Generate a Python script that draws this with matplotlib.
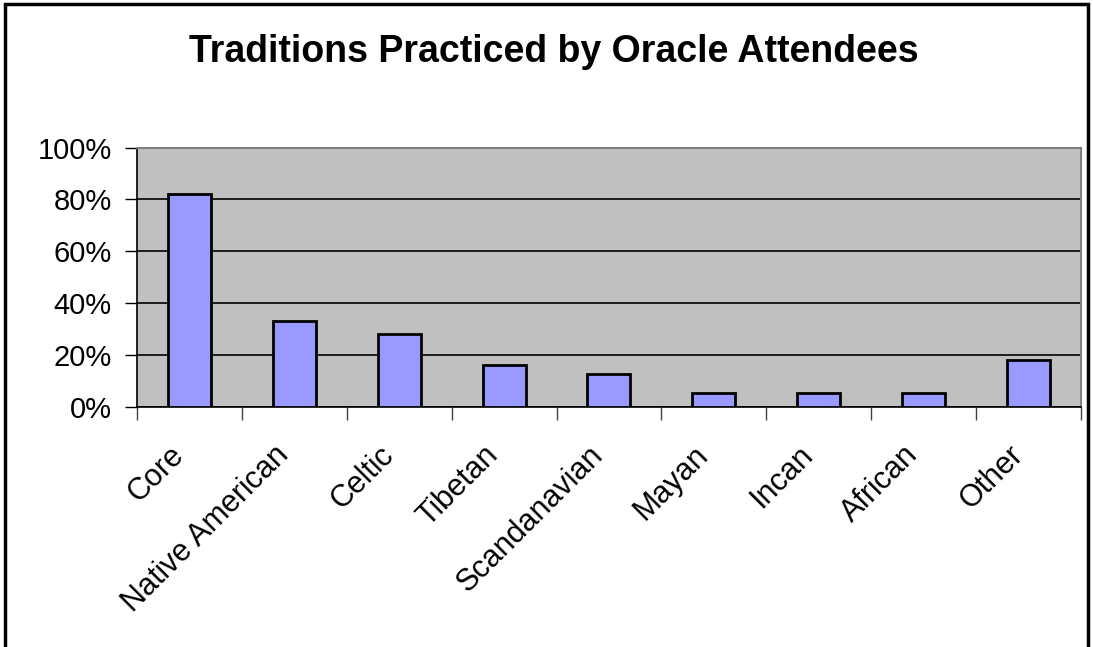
import matplotlib.pyplot as plt
from matplotlib.patches import Rectangle
from matplotlib.ticker import PercentFormatter
from matplotlib.transforms import ScaledTranslation

plt.rcParams['font.family'] = ['Liberation Sans', 'DejaVu Sans']

traditions = ['Core', 'Native American', 'Celtic', 'Tibetan', 'Scandanavian',
              'Mayan', 'Incan', 'African', 'Other']
percent = [82, 33.3, 28, 16.3, 12.7, 5.5, 5.5, 5.5, 18]

fig = plt.figure(figsize=(10.93, 6.47), dpi=100)
ax = fig.add_axes([0.1253, 0.371, 0.8637, 0.401])

# chart frame (runs past the bottom edge)
fig.patches.append(Rectangle((5 / 1093, -0.1), 1083 / 1093, 1.1 - 4 / 647,
                             transform=fig.transFigure, fill=False,
                             edgecolor='black', linewidth=2.5))

ax.set_facecolor('#C0C0C0')
x = range(len(traditions))
ax.bar(x, percent, width=0.41, color='#9999FF', edgecolor='black', linewidth=2, zorder=3)

ax.set_ylim(0, 100)
ax.set_xlim(-0.5, len(traditions) - 0.5)
ax.set_yticks(range(0, 101, 20))
ax.yaxis.set_major_formatter(PercentFormatter(decimals=0))
ax.grid(axis='y', color='black', linewidth=1.2, zorder=1)
ax.set_axisbelow(True)

ax.set_xticks(list(x))
ax.set_xticklabels(traditions, rotation=45, ha='right', va='center',
                   rotation_mode='anchor')
ax.set_xticks([i - 0.5 for i in range(len(traditions) + 1)], minor=True)
ax.tick_params(axis='x', which='major', length=0, pad=30, labelsize=22)
ax.tick_params(axis='x', which='minor', length=9, width=1, color='#404040')
ax.tick_params(axis='y', length=9, width=1, labelsize=21, pad=9)

# nudge the slanted labels a little left of their category centres
shift = ScaledTranslation(-10 / 100, -2 / 100, fig.dpi_scale_trans)
for lab in ax.get_xticklabels():
    lab.set_transform(lab.get_transform() + shift)

for side in ['top', 'right']:
    ax.spines[side].set_color('#808080')
    ax.spines[side].set_linewidth(1.5)
for side in ['left', 'bottom']:
    ax.spines[side].set_color('black')
    ax.spines[side].set_linewidth(1.2)

fig.text(0.507, 0.92, 'Traditions Practiced by Oracle Attendees', ha='center',
         va='center', fontsize=27, fontweight='bold')

fig.savefig('out.png', dpi=100)
